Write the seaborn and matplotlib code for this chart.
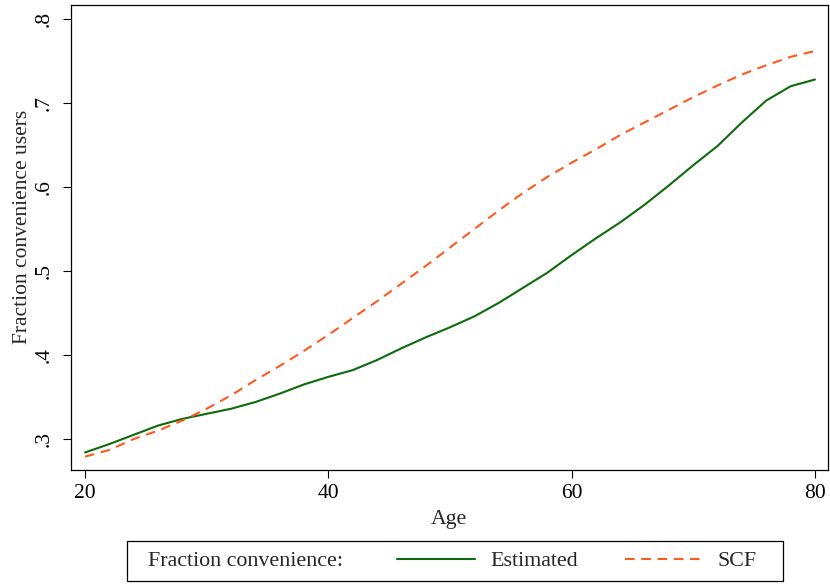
import pandas as pd
import matplotlib.pyplot as plt
import seaborn as sns
from matplotlib.patches import Rectangle

# values
age = [20, 22, 24, 26, 28, 30, 32, 34, 36, 38, 40, 42, 44, 46, 48, 50,
       52, 54, 56, 58, 60, 62, 64, 66, 68, 70, 72, 74, 76, 78, 80]
estimated = [.284, .294, .305, .316, .324, .330, .336, .344, .354, .365, .374,
             .382, .394, .408, .421, .433, .446, .462, .480, .498, .519, .539,
             .558, .579, .602, .626, .649, .677, .703, .720, .728]
scf = [.279, .287, .300, .310, .322, .336, .352, .370, .387, .405, .424,
       .444, .464, .485, .506, .528, .550, .572, .593, .612, .629, .645,
       .662, .677, .692, .707, .721, .734, .745, .755, .762]
y_ticks = [.3, .4, .5, .6, .7, .8]
y_tick_labels = ['.3', '.4', '.5', '.6', '.7', '.8']
x_ticks = [20, 40, 60, 80]

df = pd.DataFrame({'Age': age, 'Estimated': estimated, 'SCF': scf})

sns.set_style('ticks')
plt.rcParams['font.family'] = ['Liberation Serif', 'DejaVu Serif']

W, H = 830, 584
fig = plt.figure(figsize=(W / 100, H / 100), dpi=100)
ax = fig.add_axes([70.7 / W, 1 - 470 / H, (828 - 70.7) / W, (470 - 5) / H])

green = '#0d6b0d'
orange = '#ff5a1e'
sns.lineplot(data=df, x='Age', y='Estimated', ax=ax, color=green, linewidth=1.5)
sns.lineplot(data=df, x='Age', y='SCF', ax=ax, color=orange, linewidth=1.5,
             linestyle=(0, (4.6, 3.2)))

ax.set_xlim(18.82, 81.07)
ax.set_ylim(.2631, .8167)
ax.set_xticks(x_ticks)
ax.set_yticks(y_ticks)
ax.set_yticklabels(y_tick_labels, rotation=90, va='center')
ax.tick_params(axis='both', direction='out', length=6, width=0.8, labelsize=15.5,
               color='black', labelcolor='black')
ax.tick_params(axis='y', pad=6)
ax.tick_params(axis='x', pad=4)
for s in ax.spines.values():
    s.set_visible(True)
    s.set_color('black')
    s.set_linewidth(0.9)
ax.set_xlabel('Age', fontsize=15.7, labelpad=5)
ax.set_ylabel('Fraction convenience users', fontsize=15.5, va='center')
ax.yaxis.set_label_coords(-0.064, 0.5226)
ax.grid(False)

# legend box at the bottom
fig.patches.append(Rectangle((127 / W, 1 - 581 / H), 656 / W, 40 / H,
                             transform=fig.transFigure, fill=False,
                             edgecolor='black', linewidth=0.9))
fig.text(148 / W, 1 - 561 / H, 'Fraction convenience:', fontsize=15.8,
         va='center', ha='left')
lines = ax.get_lines()
fig.legend(lines[:2], ['Estimated', 'SCF'], loc='center left',
           bbox_to_anchor=(397 / W, 1 - 561 / H), ncol=2, frameon=False,
           fontsize=15.8, handlelength=3.56, handletextpad=0.68,
           columnspacing=2.14, borderpad=0, borderaxespad=0)

fig.savefig('out.png', dpi=100)
